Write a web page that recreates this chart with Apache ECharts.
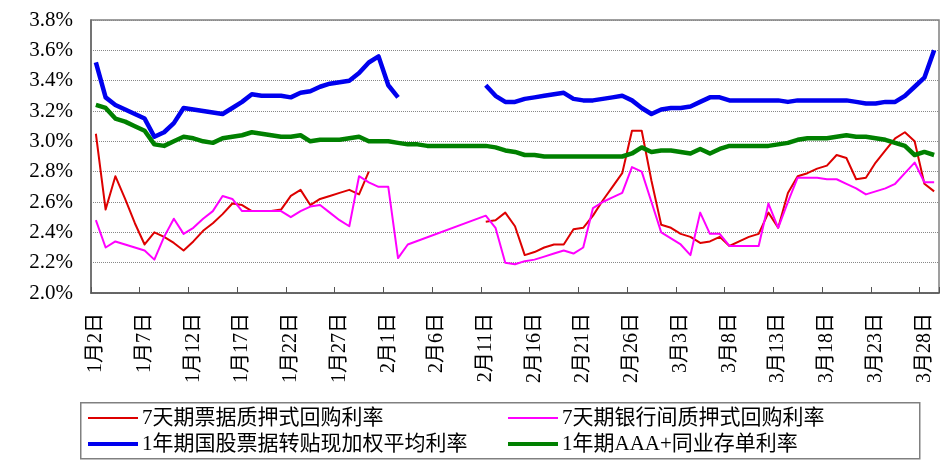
<!DOCTYPE html>
<html>
<head>
<meta charset="utf-8">
<script src="https://cdn.jsdelivr.net/npm/echarts@6/dist/echarts.min.js"></script>
<style>html,body{margin:0;padding:0;background:#fff}#c{width:951px;height:467px}</style>
</head>
<body>
<div id="c"></div>
<script>
var categories = [
'1月2日','1月3日','1月4日','1月5日','1月6日','1月7日','1月8日','1月9日','1月10日','1月11日',
'1月12日','1月13日','1月14日','1月15日','1月16日','1月17日','1月18日','1月19日','1月20日','1月21日',
'1月22日','1月23日','1月24日','1月25日','1月26日','1月27日','1月28日','1月29日','1月30日','1月31日',
'2月1日','2月2日','2月3日','2月4日','2月5日','2月6日','2月7日','2月8日','2月9日','2月10日',
'2月11日','2月12日','2月13日','2月14日','2月15日','2月16日','2月17日','2月18日','2月19日','2月20日',
'2月21日','2月22日','2月23日','2月24日','2月25日','2月26日','2月27日','2月28日','3月1日','3月2日',
'3月3日','3月4日','3月5日','3月6日','3月7日','3月8日','3月9日','3月10日','3月11日','3月12日',
'3月13日','3月14日','3月15日','3月16日','3月17日','3月18日','3月19日','3月20日','3月21日','3月22日',
'3月23日','3月24日','3月25日','3月26日','3月27日','3月28日','3月29日'
];
var seriesNames = ['7天期票据质押式回购利率','7天期银行间质押式回购利率','1年期国股票据转贴现加权平均利率','1年期AAA+同业存单利率'];
var yTicks = {min: 2.0, max: 3.8, interval: 0.2};

var red = [
3.05,2.55,2.77,2.62,2.46,2.32,2.40,2.37,2.33,2.28,
2.34,2.41,2.46,2.52,2.59,2.58,2.54,2.54,2.54,2.55,
2.64,2.68,2.58,2.62,2.64,2.66,2.68,2.65,2.80,null,
null,null,null,null,null,null,null,null,null,null,
2.47,2.48,2.53,2.44,2.25,2.27,2.30,2.32,2.32,2.42,
2.43,2.51,2.61,2.70,2.79,3.07,3.07,2.74,2.45,2.43,
2.39,2.37,2.33,2.34,2.37,2.31,2.34,2.37,2.39,2.53,
2.43,2.66,2.77,2.79,2.82,2.84,2.91,2.89,2.75,2.76,
2.86,2.94,3.02,3.06,3.00,2.72,2.67
];
var pink = [
2.48,2.30,2.34,2.32,2.30,2.28,2.22,2.37,2.49,2.39,
2.43,2.49,2.54,2.64,2.62,2.54,2.54,2.54,2.54,2.54,
2.50,2.54,2.57,2.58,2.53,2.48,2.44,2.77,2.73,2.70,
2.70,2.23,2.32,null,null,null,null,null,null,null,
2.51,2.43,2.20,2.19,2.21,2.22,2.24,2.26,2.28,2.26,
2.30,2.56,2.60,2.63,2.66,2.83,2.80,2.60,2.40,2.36,
2.32,2.25,2.53,2.39,2.39,2.31,2.31,2.31,2.31,2.59,
2.43,2.60,2.76,2.76,2.76,2.75,2.75,2.72,2.69,2.65,
2.67,2.69,2.72,2.79,2.86,2.73,2.73
];
var blue = [
3.52,3.29,3.24,3.21,3.18,3.15,3.03,3.06,3.12,3.22,
3.21,3.20,3.19,3.18,3.22,3.26,3.31,3.30,3.30,3.30,
3.29,3.32,3.33,3.36,3.38,3.39,3.40,3.45,3.52,3.56,
3.37,3.29,null,null,null,null,null,null,null,null,
3.37,3.30,3.26,3.26,3.28,3.29,3.30,3.31,3.32,3.28,
3.27,3.27,3.28,3.29,3.30,3.27,3.22,3.18,3.21,3.22,
3.22,3.23,3.26,3.29,3.29,3.27,3.27,3.27,3.27,3.27,
3.27,3.26,3.27,3.27,3.27,3.27,3.27,3.27,3.26,3.25,
3.25,3.26,3.26,3.30,3.36,3.42,3.60
];
var green = [
3.24,3.22,3.15,3.13,3.10,3.07,2.98,2.97,3.00,3.03,
3.02,3.00,2.99,3.02,3.03,3.04,3.06,3.05,3.04,3.03,
3.03,3.04,3.00,3.01,3.01,3.01,3.02,3.03,3.00,3.00,
3.00,2.99,2.98,2.98,2.97,2.97,2.97,2.97,2.97,2.97,
2.97,2.96,2.94,2.93,2.91,2.91,2.90,2.90,2.90,2.90,
2.90,2.90,2.90,2.90,2.90,2.92,2.96,2.93,2.94,2.94,
2.93,2.92,2.95,2.92,2.95,2.97,2.97,2.97,2.97,2.97,
2.98,2.99,3.01,3.02,3.02,3.02,3.03,3.04,3.03,3.03,
3.02,3.01,2.99,2.97,2.91,2.93,2.91
];

var FONT = "'Liberation Serif', 'Noto Sans CJK SC', serif";
var colors = ['#DD0000', '#FF00FF', '#0000EE', '#008000'];
var widths = [2, 2, 4.5, 4.5];
var datas = [red, pink, blue, green];
var connect = [false, true, false, false];

var chart = echarts.init(document.getElementById('c'), null, {renderer: 'canvas'});

function legendAt(k, left, top) {
  return {
    data: [{name: seriesNames[k], icon: 'rect'}], left: left, top: top, orient: 'horizontal', padding: 0,
    itemWidth: 50, itemHeight: widths[k] < 3 ? 2 : 4, itemGap: 0, selectedMode: false,
    itemStyle: {color: colors[k], borderWidth: 0},
    lineStyle: {width: 0},
    textStyle: {fontFamily: FONT, fontSize: 21, color: '#000', lineHeight: 22, padding: [0, 0, 0, -1]}
  };
}

chart.setOption({
  animation: false,
  backgroundColor: '#fff',
  grid: {left: 91, right: 12, top: 20, bottom: 174, show: true, borderColor: '#808080', borderWidth: 1.5, containLabel: false},
  xAxis: {
    type: 'category', data: categories, boundaryGap: true,
    axisLine: {show: true, lineStyle: {color: '#555', width: 1.5}},
    axisTick: {show: true, inside: true, interval: 4, length: 6, lineStyle: {color: '#555', width: 1}},
    axisLabel: {interval: 4, rotate: 90, margin: 20, fontFamily: FONT, fontSize: 20, color: '#000'},
    splitLine: {show: false}
  },
  yAxis: {
    type: 'value', min: yTicks.min, max: yTicks.max, interval: yTicks.interval,
    axisLine: {show: true, lineStyle: {color: '#666', width: 1.5}},
    axisTick: {show: false},
    axisLabel: {margin: 18, fontFamily: FONT, fontSize: 21, color: '#000', formatter: function (v) { return v.toFixed(1) + '%'; }},
    splitLine: {show: true, lineStyle: {color: '#888', type: 'dotted', width: 1}}
  },
  legend: [
    legendAt(0, 88, 407),
    legendAt(1, 508, 407),
    legendAt(2, 88, 433),
    legendAt(3, 508, 433)
  ],
  graphic: [{
    type: 'rect', left: 80, top: 402, z: -1,
    shape: {width: 839, height: 56},
    style: {fill: '#fff', stroke: '#808080', lineWidth: 1.5}
  }],
  series: seriesNames.map(function (n, k) {
    return {
      name: n, type: 'line', data: datas[k], symbol: 'none', showSymbol: false,
      connectNulls: connect[k], smooth: false,
      lineStyle: {color: colors[k], width: widths[k], join: 'round'},
      itemStyle: {color: colors[k]},
      z: 2 + k
    };
  })
});
</script>
</body>
</html>
